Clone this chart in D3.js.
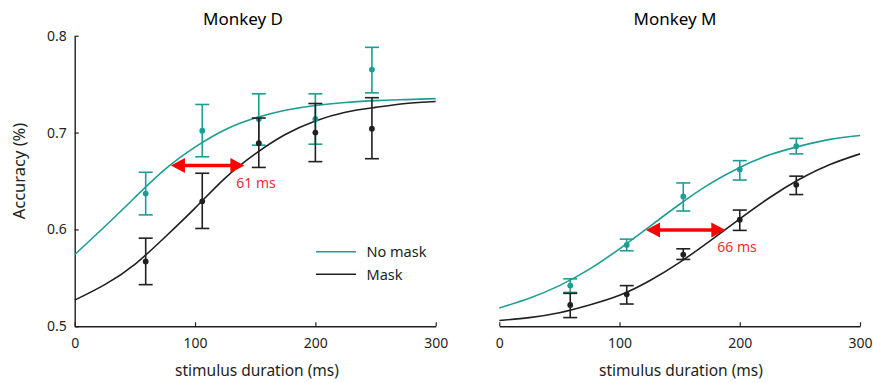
<!DOCTYPE html>
<html>
<head>
<meta charset="utf-8">
<script src="https://cdn.jsdelivr.net/npm/d3@7"></script>
<style>
  html, body { margin: 0; padding: 0; background: #fff; }
  svg { display: block; font-family: "Noto Sans", "Open Sans", sans-serif; }
</style>
</head>
<body>
<svg id="chart" width="873" height="383"></svg>
<script>
// Stimulus durations (ms) at which accuracy was measured
const durations = [59, 106, 153, 200, 247];

// Monkey D: mean accuracy and error-bar bounds
const dNoMask = [0.637, 0.702, 0.714, 0.714, 0.765];
const dNoMaskLo = [0.615, 0.675, 0.687, 0.688, 0.741];
const dNoMaskHi = [0.659, 0.729, 0.740, 0.740, 0.788];
const dMask = [0.567, 0.629, 0.689, 0.700, 0.704];
const dMaskLo = [0.543, 0.601, 0.664, 0.670, 0.673];
const dMaskHi = [0.591, 0.658, 0.715, 0.730, 0.736];

// Monkey M: mean accuracy and error-bar bounds
const mNoMask = [0.542, 0.584, 0.634, 0.662, 0.686];
const mNoMaskLo = [0.535, 0.578, 0.619, 0.651, 0.678];
const mNoMaskHi = [0.549, 0.590, 0.648, 0.671, 0.694];
const mMask = [0.522, 0.533, 0.574, 0.610, 0.646];
const mMaskLo = [0.509, 0.523, 0.569, 0.599, 0.636];
const mMaskHi = [0.534, 0.542, 0.580, 0.620, 0.655];

// Fitted psychometric curves, sampled every 25 ms
const fitX = [0, 25, 50, 75, 100, 125, 150, 175, 200, 225, 250, 275, 300];
const dNoMaskFit = [0.574, 0.603, 0.633, 0.662, 0.685, 0.703, 0.715, 0.723, 0.728, 0.731, 0.733, 0.734, 0.735];
const dMaskFit = [0.527, 0.543, 0.564, 0.592, 0.622, 0.653, 0.678, 0.698, 0.712, 0.721, 0.726, 0.730, 0.732];
const mNoMaskFit = [0.519, 0.529, 0.542, 0.559, 0.580, 0.603, 0.626, 0.647, 0.664, 0.677, 0.686, 0.693, 0.697];
const mMaskFit = [0.506, 0.509, 0.514, 0.522, 0.532, 0.547, 0.566, 0.588, 0.611, 0.633, 0.652, 0.667, 0.678];

// Horizontal shift between the curves (ms) at a fixed accuracy level
const shiftStart = [80, 122];
const shiftMs = [61, 66];
const shiftLevel = [0.666, 0.5994];

const panelTitles = ["Monkey D", "Monkey M"];
const seriesNames = ["No mask", "Mask"];
const xTicks = [0, 100, 200, 300];
const yTicks = [0.5, 0.6, 0.7, 0.8];

const TEAL = "#1c9e94";
const INK = "#231f20";
const RED = "#ff0000";
const RED_TEXT = "#ef2b34";

const svg = d3.select("#chart");

const y = d3.scaleLinear().domain([0.5, 0.8]).range([326.3, 35.7]);

const panels = [
  {
    title: panelTitles[0], range: [74.7, 435.7], titleX: 243, labelX: 257,
    showY: true, legend: true,
    series: [
      { name: seriesNames[0], color: TEAL, mean: dNoMask, lo: dNoMaskLo, hi: dNoMaskHi, fit: dNoMaskFit },
      { name: seriesNames[1], color: INK, mean: dMask, lo: dMaskLo, hi: dMaskHi, fit: dMaskFit }
    ],
    shift: 0
  },
  {
    title: panelTitles[1], range: [499.3, 860], titleX: 675, labelX: 681,
    showY: false, legend: false,
    series: [
      { name: seriesNames[0], color: TEAL, mean: mNoMask, lo: mNoMaskLo, hi: mNoMaskHi, fit: mNoMaskFit },
      { name: seriesNames[1], color: INK, mean: mMask, lo: mMaskLo, hi: mMaskHi, fit: mMaskFit }
    ],
    shift: 1
  }
];

panels.forEach(p => {
  const x = d3.scaleLinear().domain([0, 300]).range(p.range);
  const g = svg.append("g");

  // Title
  g.append("text")
    .attr("x", p.titleX).attr("y", 25)
    .attr("text-anchor", "middle")
    .attr("font-size", 17).attr("fill", "#000")
    .text(p.title);

  // X axis with inward ticks
  const xAxis = g.append("g")
    .attr("transform", `translate(0,${y(0.5)})`)
    .call(d3.axisBottom(x).tickValues(xTicks).tickFormat(d3.format("d"))
      .tickSizeInner(-4).tickSizeOuter(0).tickPadding(12));
  xAxis.select(".domain").attr("stroke", INK).attr("stroke-width", 1.4);
  xAxis.selectAll(".tick line").attr("stroke", INK).attr("stroke-width", 1.2);
  xAxis.selectAll(".tick text").attr("font-size", 14).attr("fill", "#231f20")
    .attr("font-family", "Noto Sans, sans-serif");

  g.append("text")
    .attr("x", p.labelX).attr("y", 376)
    .attr("text-anchor", "middle")
    .attr("font-size", 15.5).attr("fill", INK)
    .text("stimulus duration (ms)");

  if (p.showY) {
    const yAxis = g.append("g")
      .attr("transform", `translate(${p.range[0]},0)`)
      .call(d3.axisLeft(y).tickValues(yTicks).tickFormat(d3.format(".1f"))
        .tickSizeInner(-4).tickSizeOuter(0).tickPadding(8));
    yAxis.select(".domain").attr("stroke", INK).attr("stroke-width", 1.4);
    yAxis.selectAll(".tick line").attr("stroke", INK).attr("stroke-width", 1.2);
    yAxis.selectAll(".tick text").attr("font-size", 14).attr("fill", INK)
      .attr("font-family", "Noto Sans, sans-serif");

    g.append("text")
      .attr("transform", `translate(25,${(y(0.5) + y(0.8)) / 2 - 10}) rotate(-90)`)
      .attr("text-anchor", "middle")
      .attr("font-size", 16.5).attr("fill", INK)
      .text("Accuracy (%)");
  }

  // Fitted curves
  const line = d3.line().x((d, i) => x(fitX[i])).y(d => y(d)).curve(d3.curveNatural);

  p.series.forEach(s => {
    g.append("path")
      .datum(s.fit)
      .attr("d", line)
      .attr("fill", "none")
      .attr("stroke", s.color)
      .attr("stroke-width", 1.6);
  });

  // Error bars and means
  p.series.forEach(s => {
    const eb = g.append("g").attr("stroke", s.color).attr("stroke-width", 1.6);
    durations.forEach((t, i) => {
      const cx = x(t);
      eb.append("line").attr("x1", cx).attr("x2", cx).attr("y1", y(s.lo[i])).attr("y2", y(s.hi[i]));
      eb.append("line").attr("x1", cx - 7).attr("x2", cx + 7).attr("y1", y(s.lo[i])).attr("y2", y(s.lo[i]));
      eb.append("line").attr("x1", cx - 7).attr("x2", cx + 7).attr("y1", y(s.hi[i])).attr("y2", y(s.hi[i]));
    });
    g.append("g").selectAll("circle")
      .data(s.mean)
      .join("circle")
      .attr("cx", (d, i) => x(durations[i]))
      .attr("cy", d => y(d))
      .attr("r", 2.9)
      .attr("fill", s.color);
  });

  // Double-headed arrow showing the curve shift
  const k = p.shift;
  const ax0 = x(shiftStart[k]);
  const ax1 = x(shiftStart[k] + shiftMs[k]);
  const ay = y(shiftLevel[k]);
  const headL = 14, headH = 7.5;
  g.append("line")
    .attr("x1", ax0 + headL - 1).attr("x2", ax1 - headL + 1)
    .attr("y1", ay).attr("y2", ay)
    .attr("stroke", RED).attr("stroke-width", 3.6);
  g.append("path")
    .attr("d", `M${ax0},${ay} L${ax0 + headL},${ay - headH} L${ax0 + headL},${ay + headH} Z`)
    .attr("fill", RED);
  g.append("path")
    .attr("d", `M${ax1},${ay} L${ax1 - headL},${ay - headH} L${ax1 - headL},${ay + headH} Z`)
    .attr("fill", RED);
  g.append("text")
    .attr("x", ax1 - 8).attr("y", ay + 22)
    .attr("font-size", 14).attr("fill", RED_TEXT)
    .text(`${shiftMs[k]} ms`);

  // Legend
  if (p.legend) {
    p.series.forEach((s, i) => {
      const ly = 251.7 + i * 22.6;
      g.append("line")
        .attr("x1", 316).attr("x2", 356).attr("y1", ly).attr("y2", ly)
        .attr("stroke", s.color).attr("stroke-width", 1.6);
      g.append("text")
        .attr("x", 366.5).attr("y", ly + 5.5)
        .attr("font-size", 14.5).attr("fill", INK)
        .text(s.name);
    });
  }
});
</script>
</body>
</html>
